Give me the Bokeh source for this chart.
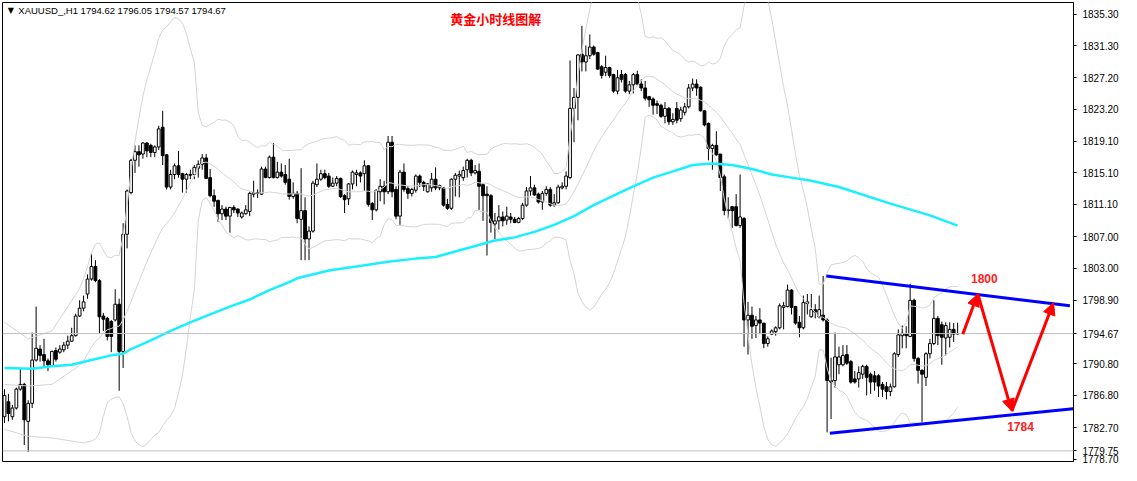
import numpy as np
import pandas as pd
from bokeh.plotting import figure
from bokeh.models import (FixedTicker, PrintfTickFormatter, Span, Label, Arrow,
                          NormalHead, ColumnDataSource, Range1d)
from bokeh.embed import file_html
from bokeh.resources import INLINE

# ---------------- data (XAUUSD H1) ----------------
opens = [
    1784.1, 1786.0, 1784.1, 1785.2, 1787.6, 1788.2, 1783.5, 1785.8, 1791.3, 1792.7,
    1792.0, 1791.2, 1790.6, 1792.5, 1792.3, 1792.6, 1793.2, 1793.7, 1794.4, 1796.9,
    1797.9, 1799.7, 1801.6, 1803.2, 1801.4, 1796.9, 1796.6, 1796.2, 1796.4, 1798.4,
    1792.4, 1807.3, 1812.6, 1816.7, 1817.8, 1817.5, 1818.9, 1818.6, 1817.7, 1818.4,
    1820.9, 1817.4, 1813.3, 1814.9, 1816.0, 1815.0, 1814.3, 1814.8, 1814.9, 1815.7,
    1816.2, 1817.0, 1814.5, 1812.2, 1811.6, 1809.9, 1810.5, 1809.6, 1810.7, 1810.5,
    1809.5, 1809.9, 1810.2, 1812.4, 1812.5, 1812.4, 1815.6, 1814.5, 1817.1, 1814.5,
    1815.2, 1814.9, 1814.3, 1812.1, 1812.5, 1809.2, 1810.3, 1806.7, 1807.7, 1813.6,
    1814.3, 1815.0, 1814.7, 1813.4, 1813.8, 1814.4, 1812.2, 1811.8, 1813.7, 1814.9,
    1815.1, 1815.0, 1816.0, 1811.2, 1810.4, 1812.7, 1813.4, 1812.7, 1819.0, 1813.0,
    1809.6, 1815.2, 1813.1, 1812.5, 1812.9, 1814.7, 1813.9, 1812.7, 1813.2, 1814.3,
    1813.2, 1813.2, 1811.1, 1810.6, 1814.3, 1814.7, 1814.5, 1815.5, 1816.7, 1815.1,
    1815.3, 1813.6, 1812.4, 1812.2, 1808.6, 1809.0, 1809.5, 1809.1, 1809.5, 1809.2,
    1808.8, 1809.3, 1811.0, 1812.8, 1813.2, 1812.4, 1811.4, 1812.5, 1813.0, 1811.0,
    1811.3, 1813.2, 1813.4, 1814.5, 1823.3, 1824.7, 1830.2, 1829.2, 1830.0, 1831.1,
    1830.4, 1828.6, 1827.9, 1828.5, 1827.6, 1825.5, 1827.6, 1827.6, 1825.5, 1826.3,
    1827.6, 1826.4, 1825.9, 1824.8, 1824.5, 1823.9, 1823.7, 1822.3, 1823.3, 1821.6,
    1823.3, 1822.0, 1822.8, 1823.5, 1825.9, 1826.4, 1826.0, 1823.0, 1821.4, 1818.2,
    1818.6, 1817.5, 1814.6, 1810.3, 1810.8, 1810.8, 1808.4, 1809.3, 1796.4, 1797.0,
    1795.7, 1796.4, 1796.0, 1793.4, 1794.6, 1794.9, 1795.4, 1798.0, 1798.1, 1800.2,
    1798.1, 1796.1, 1795.4, 1798.5, 1796.8, 1797.7, 1796.8, 1797.0, 1796.4, 1788.7,
    1788.7, 1790.7, 1790.7, 1792.0, 1791.1, 1788.9, 1788.9, 1789.5, 1790.5, 1789.5,
    1789.3, 1789.3, 1788.2, 1787.9, 1787.3, 1787.9, 1792.0, 1794.4, 1794.6, 1794.3,
    1798.9, 1791.5, 1790.0, 1789.1, 1792.1, 1793.4, 1796.6, 1795.8, 1794.1, 1794.2,
    1795.2, 1794.62]
highs = [
    1787.6, 1787.0, 1785.6, 1787.8, 1790.3, 1788.4, 1786.2, 1794.8, 1798.1, 1793.2,
    1794.0, 1791.5, 1792.5, 1792.9, 1793.2, 1793.6, 1794.4, 1795.4, 1797.2, 1798.9,
    1799.5, 1802.2, 1804.8, 1804.0, 1801.6, 1797.3, 1796.8, 1796.4, 1800.3, 1799.1,
    1808.7, 1813.0, 1816.9, 1818.6, 1818.6, 1819.0, 1819.0, 1818.8, 1818.6, 1821.1,
    1823.0, 1817.5, 1815.5, 1816.3, 1817.9, 1815.1, 1815.1, 1815.5, 1816.1, 1816.7,
    1817.5, 1817.5, 1815.6, 1813.0, 1811.7, 1811.0, 1810.8, 1810.8, 1811.0, 1810.6,
    1810.2, 1811.0, 1812.7, 1814.1, 1813.0, 1815.9, 1815.9, 1817.3, 1818.9, 1816.5,
    1816.3, 1816.1, 1816.9, 1813.9, 1812.8, 1815.7, 1812.0, 1808.3, 1814.1, 1816.3,
    1815.5, 1815.5, 1815.1, 1814.5, 1814.7, 1814.5, 1812.4, 1813.8, 1815.4, 1815.5,
    1815.3, 1816.7, 1816.1, 1811.4, 1813.0, 1814.3, 1814.1, 1819.8, 1819.8, 1813.4,
    1815.5, 1816.3, 1813.4, 1813.2, 1814.9, 1814.9, 1814.1, 1813.8, 1815.1, 1815.8,
    1813.6, 1813.3, 1811.8, 1814.4, 1815.1, 1815.4, 1815.9, 1816.9, 1816.9, 1816.1,
    1816.3, 1813.8, 1813.4, 1812.4, 1810.0, 1811.0, 1810.2, 1810.8, 1810.0, 1809.5,
    1809.5, 1811.3, 1813.3, 1814.7, 1813.6, 1812.6, 1812.8, 1813.4, 1813.3, 1812.4,
    1813.6, 1813.9, 1815.3, 1829.4, 1825.9, 1830.2, 1833.8, 1831.3, 1832.7, 1831.3,
    1830.5, 1828.8, 1830.0, 1828.6, 1827.7, 1828.2, 1828.2, 1827.8, 1826.8, 1827.8,
    1828.1, 1827.0, 1826.8, 1824.9, 1824.7, 1824.3, 1823.9, 1824.1, 1823.5, 1822.7,
    1824.1, 1823.5, 1824.0, 1826.4, 1827.1, 1827.0, 1826.1, 1823.1, 1821.5, 1818.8,
    1820.4, 1817.5, 1814.9, 1812.0, 1810.9, 1812.4, 1814.9, 1809.5, 1798.7, 1798.1,
    1796.9, 1797.9, 1796.0, 1794.3, 1795.2, 1795.6, 1798.5, 1798.7, 1800.9, 1800.3,
    1798.2, 1796.9, 1799.5, 1799.7, 1799.7, 1798.4, 1799.5, 1802.0, 1796.6, 1791.6,
    1794.8, 1793.0, 1793.2, 1793.2, 1791.3, 1789.9, 1790.5, 1790.7, 1790.7, 1789.7,
    1789.9, 1789.5, 1788.5, 1788.5, 1788.3, 1792.3, 1795.2, 1795.7, 1795.6, 1801.0,
    1799.1, 1791.7, 1790.1, 1792.3, 1794.0, 1798.9, 1796.9, 1796.2, 1796.1, 1796.1,
    1796.0, 1796.05]
lows = [
    1783.3, 1783.5, 1783.7, 1785.0, 1787.4, 1780.5, 1779.6, 1785.2, 1791.1, 1791.1,
    1790.5, 1789.9, 1790.5, 1791.1, 1792.1, 1792.3, 1792.7, 1793.6, 1794.3, 1796.8,
    1797.5, 1799.1, 1801.4, 1801.2, 1794.6, 1795.0, 1793.8, 1792.3, 1796.2, 1787.4,
    1790.3, 1805.5, 1812.4, 1815.1, 1815.9, 1816.9, 1817.1, 1817.1, 1817.1, 1818.0,
    1816.1, 1813.0, 1813.0, 1814.3, 1814.5, 1812.6, 1812.6, 1814.3, 1814.3, 1814.5,
    1815.5, 1814.3, 1812.0, 1810.8, 1808.9, 1809.1, 1809.1, 1807.5, 1810.0, 1809.5,
    1809.3, 1809.8, 1809.6, 1812.0, 1811.9, 1812.3, 1814.5, 1814.4, 1814.4, 1814.4,
    1814.5, 1813.6, 1811.7, 1811.8, 1808.7, 1804.0, 1804.0, 1804.0, 1807.5, 1813.3,
    1814.1, 1814.3, 1813.2, 1813.3, 1813.4, 1811.9, 1810.0, 1811.0, 1813.0, 1813.4,
    1813.9, 1812.8, 1810.8, 1809.1, 1810.2, 1811.5, 1811.1, 1812.4, 1812.0, 1809.2,
    1808.5, 1812.7, 1811.8, 1812.1, 1812.6, 1813.3, 1812.8, 1812.6, 1812.7, 1812.9,
    1812.9, 1810.8, 1810.4, 1810.4, 1812.1, 1812.0, 1814.1, 1814.5, 1814.7, 1814.9,
    1810.4, 1809.0, 1804.6, 1807.5, 1806.7, 1807.9, 1808.3, 1808.5, 1808.7, 1808.7,
    1808.7, 1809.1, 1810.8, 1812.2, 1812.2, 1811.2, 1810.4, 1812.2, 1810.8, 1810.8,
    1811.2, 1813.0, 1813.0, 1814.3, 1819.0, 1821.8, 1828.0, 1828.0, 1829.6, 1830.0,
    1828.2, 1827.1, 1827.4, 1827.2, 1825.3, 1825.1, 1826.6, 1825.3, 1825.1, 1825.2,
    1826.2, 1825.5, 1824.3, 1823.5, 1822.5, 1822.6, 1822.1, 1821.4, 1821.2, 1821.2,
    1821.4, 1821.6, 1822.4, 1823.3, 1825.5, 1824.9, 1822.9, 1821.0, 1816.7, 1815.5,
    1817.3, 1812.8, 1809.7, 1809.3, 1808.1, 1808.3, 1808.1, 1793.0, 1792.0, 1794.0,
    1794.1, 1794.6, 1792.8, 1793.0, 1794.5, 1794.4, 1795.2, 1795.2, 1798.0, 1797.1,
    1795.8, 1794.2, 1795.2, 1797.1, 1796.7, 1796.6, 1796.6, 1796.2, 1782.1, 1783.8,
    1787.8, 1789.5, 1790.5, 1790.7, 1788.3, 1788.3, 1787.8, 1788.9, 1786.8, 1787.0,
    1787.4, 1786.6, 1786.6, 1786.3, 1786.7, 1787.8, 1791.7, 1792.8, 1792.8, 1794.2,
    1791.1, 1788.3, 1783.4, 1788.0, 1791.5, 1793.2, 1793.2, 1790.7, 1791.9, 1792.9,
    1793.6, 1794.57]
closes = [
    1786.8, 1784.5, 1785.2, 1787.6, 1788.2, 1783.7, 1785.8, 1791.3, 1792.8, 1791.9,
    1791.2, 1790.7, 1792.4, 1791.4, 1792.7, 1793.2, 1793.7, 1794.4, 1796.9, 1797.9,
    1798.7, 1801.6, 1803.2, 1801.4, 1796.8, 1796.5, 1794.3, 1794.3, 1798.4, 1792.4,
    1807.3, 1812.8, 1816.7, 1817.8, 1817.4, 1818.9, 1817.9, 1817.7, 1818.4, 1820.7,
    1817.3, 1813.3, 1814.9, 1816.0, 1814.9, 1814.3, 1814.9, 1814.9, 1815.8, 1816.2,
    1817.0, 1814.4, 1812.2, 1811.5, 1809.9, 1810.5, 1809.6, 1810.7, 1810.4, 1810.0,
    1810.0, 1810.4, 1812.5, 1812.6, 1812.6, 1815.6, 1814.5, 1817.1, 1814.5, 1815.2,
    1814.7, 1813.9, 1812.1, 1812.5, 1809.3, 1810.3, 1806.7, 1807.7, 1813.8, 1814.3,
    1815.0, 1814.5, 1813.4, 1813.8, 1814.4, 1812.1, 1811.7, 1813.7, 1815.2, 1815.1,
    1814.7, 1816.0, 1811.1, 1810.4, 1812.9, 1813.4, 1812.7, 1819.0, 1812.7, 1809.6,
    1815.2, 1813.0, 1812.5, 1813.0, 1814.7, 1813.9, 1813.4, 1813.7, 1814.3, 1813.2,
    1813.5, 1811.0, 1810.6, 1814.3, 1814.8, 1814.9, 1815.4, 1816.7, 1815.1, 1815.4,
    1813.4, 1812.2, 1812.2, 1808.8, 1809.0, 1809.5, 1809.0, 1809.6, 1809.2, 1808.8,
    1809.3, 1811.0, 1812.8, 1813.2, 1812.3, 1811.4, 1812.5, 1813.0, 1811.0, 1811.3,
    1813.3, 1813.4, 1814.7, 1823.3, 1824.7, 1830.1, 1829.2, 1830.0, 1831.1, 1830.2,
    1828.3, 1827.5, 1828.5, 1827.5, 1825.5, 1827.2, 1827.0, 1825.5, 1826.3, 1827.6,
    1826.4, 1825.9, 1824.6, 1824.4, 1823.7, 1823.7, 1822.3, 1823.3, 1821.6, 1821.9,
    1821.8, 1823.1, 1823.5, 1825.9, 1826.4, 1825.9, 1823.0, 1821.2, 1818.2, 1818.6,
    1817.4, 1814.5, 1810.3, 1810.4, 1810.3, 1808.4, 1809.5, 1796.4, 1797.0, 1795.6,
    1796.4, 1796.0, 1793.4, 1794.0, 1795.0, 1795.4, 1798.2, 1798.2, 1800.2, 1798.0,
    1796.0, 1795.4, 1798.6, 1798.7, 1797.7, 1797.4, 1797.7, 1796.4, 1788.7, 1788.5,
    1791.7, 1791.7, 1791.9, 1790.9, 1788.5, 1788.5, 1789.7, 1790.5, 1789.1, 1788.5,
    1788.5, 1788.0, 1787.6, 1787.3, 1787.9, 1792.1, 1794.5, 1794.7, 1794.4, 1798.9,
    1791.5, 1790.0, 1789.5, 1792.1, 1793.4, 1796.6, 1794.4, 1794.2, 1795.7, 1795.2,
    1794.6, 1794.67]

# Bollinger band values before a full 20-bar window exists
bb_early_idx = [0, 6, 12]
bb_early_upper = [1796.1, 1794.0, 1795.0]
bb_early_mid = [1788.2, 1788.0, 1788.2]
bb_early_lower = [1782.5, 1781.6, 1781.4]
bb_period = 20
bb_dev = 2.5

# long moving average (cyan)
ma_idx = [0, 7, 12, 17, 22, 27, 30, 32, 37, 42, 47, 52, 57, 62, 67, 72, 74, 82, 89, 97,
          104, 109, 114, 119, 124, 129, 134, 139, 144, 149, 154, 159, 164, 169, 174, 179,
          184, 189, 194, 199, 204, 211, 224, 234, 241]
ma_val = [1790.3, 1790.2, 1790.5, 1790.7, 1791.3, 1791.9, 1792.1, 1792.7, 1793.8, 1795.0,
          1796.1, 1797.1, 1798.1, 1799.0, 1800.2, 1801.2, 1801.7, 1802.7, 1803.2, 1803.8,
          1804.2, 1804.4, 1805.1, 1805.8, 1806.5, 1806.9, 1807.6, 1808.5, 1809.6, 1811.0,
          1812.2, 1813.4, 1814.5, 1815.3, 1816.1, 1816.3, 1816.1, 1815.6, 1814.9, 1814.5,
          1814.1, 1813.3, 1811.2, 1809.7, 1808.4]

# hand-drawn triangle and forecast path
tri_upper_idx = [207.8, 269.4]
tri_upper_val = [1802.0, 1798.2]
tri_lower_idx = [208.7, 270.2]
tri_lower_val = [1782.0, 1785.1]
path_idx = [242.3, 246.1, 254.7, 265.25]
path_val = [1794.6, 1799.7, 1784.8, 1798.6]

price_ticks = [1835.30, 1831.30, 1827.20, 1823.20, 1819.10, 1815.10, 1811.10, 1807.00,
               1803.00, 1798.90, 1794.67, 1790.80, 1786.80, 1782.70, 1779.75, 1778.70]
last_price = 1794.67
alert_price = 1779.75
header = "XAUUSD_,H1  1794.62 1796.05 1794.57 1794.67"
title = "黄金小时线图解"

# ---------------- figure ----------------
N = len(closes)
idx = np.arange(N)
x_end = 270.3
p = figure(width=1121, height=465, x_range=Range1d(-0.5, x_end),
           y_range=Range1d(1778.4, 1836.77), x_axis_type=None,
           y_axis_location="right", output_backend="svg", toolbar_location=None,
           min_border_left=2, min_border_top=2, min_border_bottom=4, min_border_right=0)
p.background_fill_color = "white"
p.border_fill_color = "white"
p.outline_line_color = "black"
p.outline_line_width = 1
p.grid.visible = False

ax = p.yaxis[0]
ax.ticker = FixedTicker(ticks=price_ticks)
ax.formatter = PrintfTickFormatter(format="%.2f")
ax.major_tick_out = 3
ax.major_tick_in = 0
ax.minor_tick_out = 0
ax.minor_tick_in = 0
ax.major_label_standoff = 6
ax.axis_line_color = "black"
ax.major_label_text_font = "Liberation Sans"
ax.major_label_text_font_size = "10px"
ax.major_label_text_color = "black"

p.add_layout(Span(location=last_price, dimension="width", line_color="#c0c0c0", line_width=1))
p.add_layout(Span(location=alert_price, dimension="width", line_color="#c0c0c0", line_width=1))

# candles
o = np.array(opens); c = np.array(closes); h = np.array(highs); l = np.array(lows)
src = ColumnDataSource(dict(x=idx, top=np.maximum(o, c), bottom=np.minimum(o, c),
                            hi=h, lo=l, fill=np.where(c >= o, "white", "black")))
p.segment(x0="x", y0="lo", x1="x", y1="hi", source=src, line_color="black", line_width=1)
p.vbar(x="x", width=0.7, top="top", bottom="bottom", fill_color="fill",
       line_color="black", line_width=1, source=src)

# Bollinger bands
s = pd.Series(c)
mid = s.rolling(bb_period).mean()
sd = s.rolling(bb_period).std(ddof=0)
start = bb_period - 1
bb_x = bb_early_idx + list(range(start, N))
up = bb_early_upper + list((mid + bb_dev * sd)[start:])
md = bb_early_mid + list(mid[start:])
lo_b = bb_early_lower + list((mid - bb_dev * sd)[start:])
for yy in (up, md, lo_b):
    p.line(bb_x, yy, line_color="#d4d4d4", line_width=1)

# moving average
p.line(ma_idx, ma_val, line_color="#19f0ff", line_width=2.5)

# triangle
p.line(tri_upper_idx, tri_upper_val, line_color="#0000ff", line_width=3)
p.line(tri_lower_idx, tri_lower_val, line_color="#0000ff", line_width=3)

# forecast arrows
for k in range(len(path_idx) - 1):
    p.add_layout(Arrow(end=NormalHead(size=12, fill_color="#ff0000", line_color="#ff0000"),
                       x_start=path_idx[k], y_start=path_val[k],
                       x_end=path_idx[k + 1], y_end=path_val[k + 1],
                       line_color="#ff0000", line_width=3))

p.add_layout(Label(x=247.75, y=1801.7, text="1800", text_color="#ff2020",
                   text_font="Liberation Sans", text_font_style="bold", text_font_size="12px",
                   text_align="center", text_baseline="middle"))
p.add_layout(Label(x=256.9, y=1782.8, text="1784", text_color="#ff2020",
                   text_font="Liberation Sans", text_font_style="bold", text_font_size="12px",
                   text_align="center", text_baseline="middle"))

# header and title
p.add_layout(Label(x=1.6, y=1835.8, text="▼", text_color="black", text_font="DejaVu Sans",
                   text_font_size="8px", text_align="center", text_baseline="middle"))
p.add_layout(Label(x=3.5, y=1835.8, text=header, text_color="black",
                   text_font="Liberation Sans", text_font_size="9.5px",
                   text_align="left", text_baseline="middle"))
p.add_layout(Label(x=124.2, y=1834.7, text=title, text_color="#ff0000",
                   text_font="Noto Sans CJK SC", text_font_style="bold", text_font_size="13px",
                   text_align="center", text_baseline="middle"))

open("out.html", "w").write(file_html(p, INLINE))
